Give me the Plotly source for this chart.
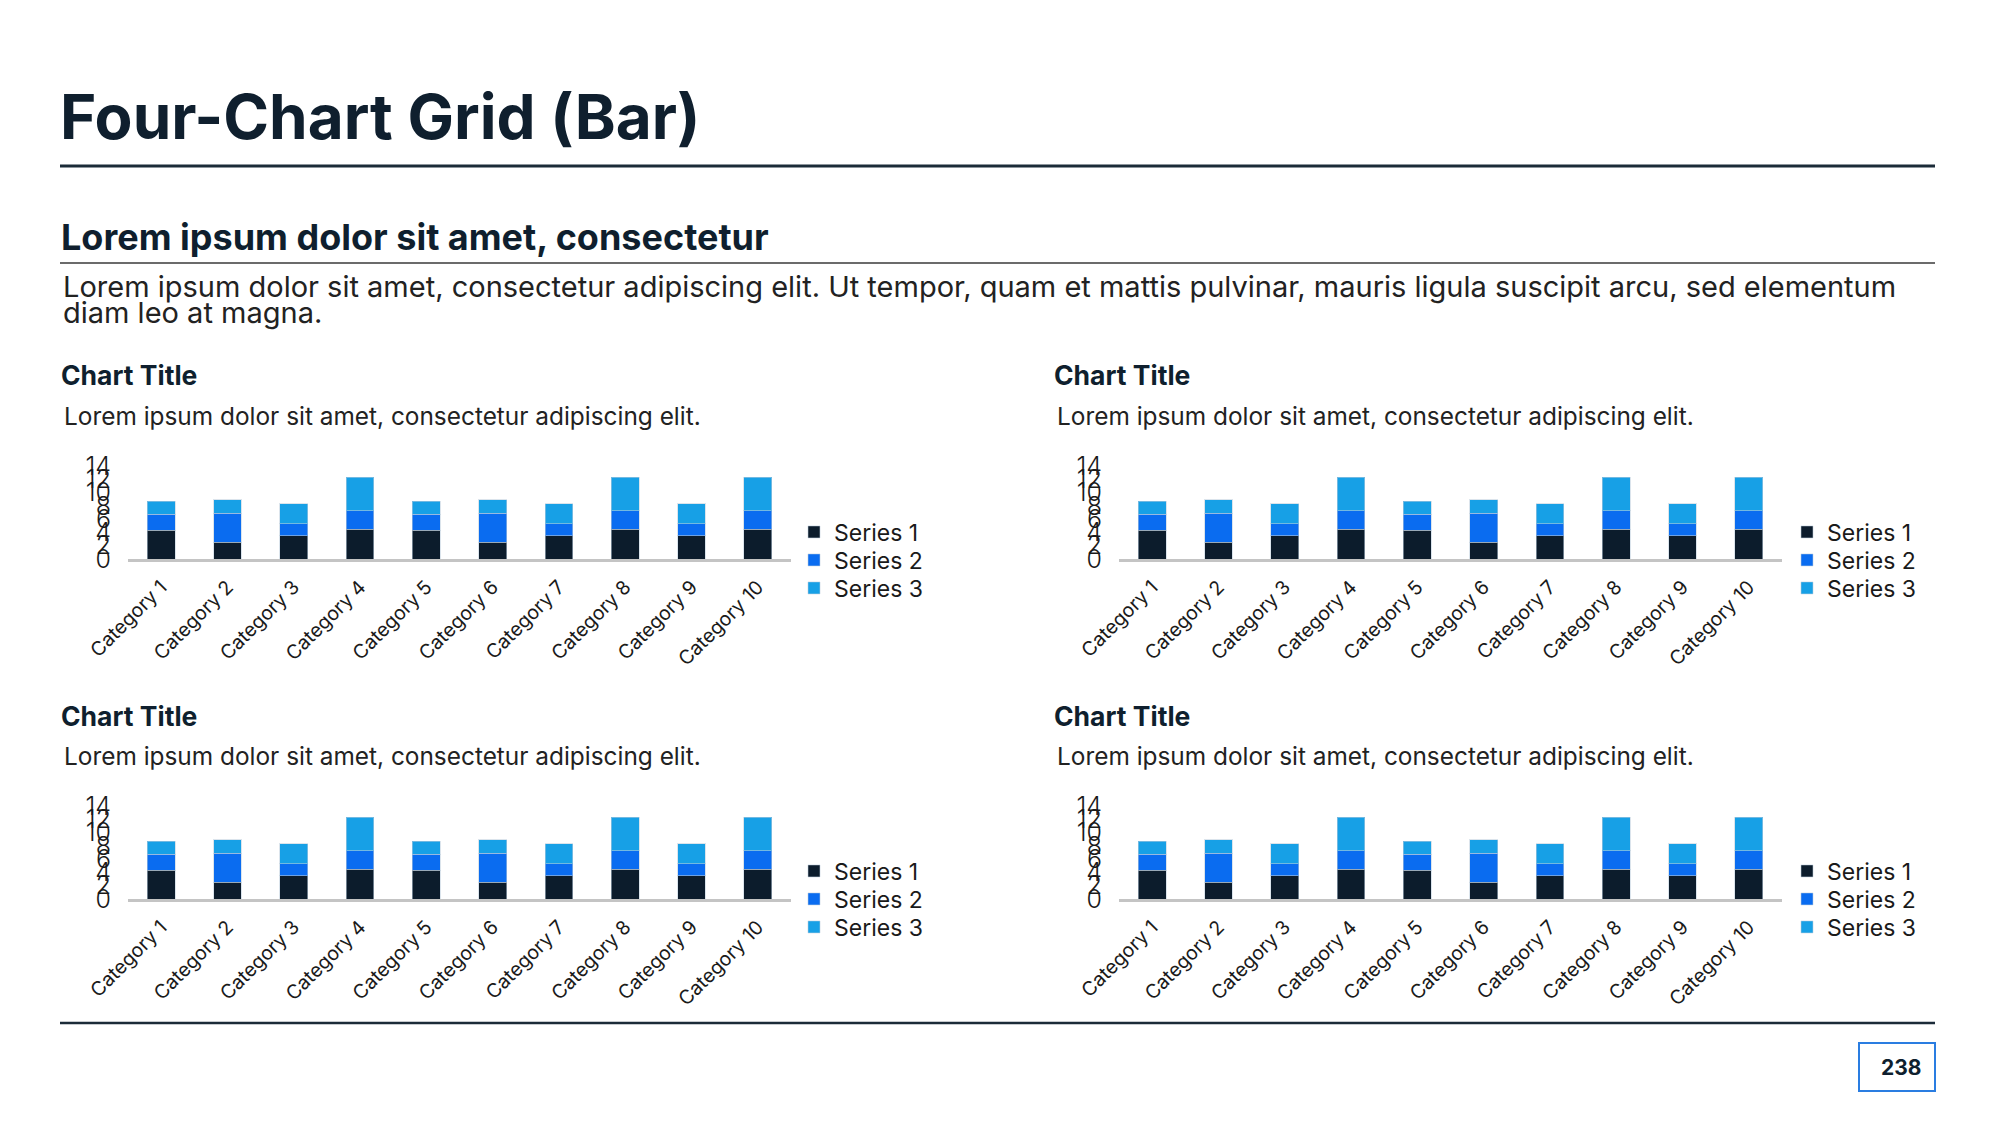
import plotly.graph_objects as go

# ---------------- data ----------------
categories = ["Category 1", "Category 2", "Category 3", "Category 4", "Category 5",
              "Category 6", "Category 7", "Category 8", "Category 9", "Category 10"]
series1 = [4.3, 2.5, 3.5, 4.5, 4.3, 2.5, 3.5, 4.5, 3.5, 4.5]
series2 = [2.4, 4.4, 1.8, 2.8, 2.4, 4.4, 1.8, 2.8, 1.8, 2.8]
series3 = [2.0, 2.0, 3.0, 5.0, 2.0, 2.0, 3.0, 5.0, 3.0, 5.0]
series_names = ["Series 1", "Series 2", "Series 3"]
y_ticks = [0, 2, 4, 6, 8, 10, 12, 14]

page_title = "Four-Chart Grid (Bar)"
section_title = "Lorem ipsum dolor sit amet, consectetur"
para_line1 = ("Lorem ipsum dolor sit amet, consectetur adipiscing elit. Ut tempor, quam et mattis "
              "pulvinar, mauris ligula suscipit arcu, sed elementum")
para_line2 = "diam leo at magna."
chart_title = "Chart Title"
chart_desc = "Lorem ipsum dolor sit amet, consectetur adipiscing elit."
page_number = "238"

# ---------------- styling ----------------
W, H = 2000, 1125
FONT = "Inter, 'Open Sans', sans-serif"
DARK = "#0f1f2e"
COLORS = ["#0c1c2c", "#0a6cf0", "#17a0e6"]


def px(x):
    return x / W


def py(y):
    return 1 - y / H


series_values = [series1, series2, series3]

panels = [
    dict(xd=(128, 791), yd=(559, 466), tx=59, ty=375, dx=62, dy=416, lx=794, ly=(532, 560, 588)),
    dict(xd=(1119, 1782), yd=(559, 466), tx=1052, ty=375, dx=1055, dy=416, lx=1787, ly=(532, 560, 588)),
    dict(xd=(128, 791), yd=(899, 806), tx=59, ty=716, dx=62, dy=756, lx=794, ly=(871, 899, 927)),
    dict(xd=(1119, 1782), yd=(899, 806), tx=1052, ty=716, dx=1055, dy=756, lx=1787, ly=(871, 899, 927)),
]

fig = go.Figure()
layout = dict(
    width=W, height=H,
    margin=dict(l=0, r=0, t=0, b=0, autoexpand=False),
    paper_bgcolor="white", plot_bgcolor="white",
    barmode="stack",
    font=dict(family=FONT, color=DARK),
    showlegend=True,
)

annotations = []
shapes = []
legend_count = 0

for i, p in enumerate(panels):
    n = i + 1
    xa = "x" if n == 1 else f"x{n}"
    ya = "y" if n == 1 else f"y{n}"
    for s, name in enumerate(series_names):
        legend_count += 1
        lg = "legend" if legend_count == 1 else f"legend{legend_count}"
        fig.add_trace(go.Bar(
            x=categories, y=series_values[s], name=name,
            marker=dict(color=COLORS[s], line=dict(color="rgba(190,205,220,0.55)", width=1)),
            width=0.42, xaxis=xa, yaxis=ya, legend=lg,
        ))
        layout[lg] = dict(
            x=px(p["lx"]), y=py(p["ly"][s]), xanchor="left", yanchor="middle",
            font=dict(size=23, color="#1a1a1a", family=FONT),
            bgcolor="rgba(0,0,0,0)", itemwidth=30,
        )
    xkey = "xaxis" if n == 1 else f"xaxis{n}"
    ykey = "yaxis" if n == 1 else f"yaxis{n}"
    layout[xkey] = dict(
        domain=[px(p["xd"][0]), px(p["xd"][1])], anchor=ya, automargin=False,
        showline=True, linecolor="#c4c4c4", linewidth=3,
        showgrid=False, zeroline=False, ticks="",
        tickangle=-45, tickfont=dict(size=19.5, color="#1a1a1a", family=FONT),
        ticklabelstandoff=6,
        range=[-0.5, 9.5],
    )
    layout[ykey] = dict(
        domain=[py(p["yd"][0]), py(p["yd"][1])], anchor=xa, automargin=False,
        range=[0, 14], tickvals=y_ticks,
        showgrid=False, zeroline=False, showline=False, ticks="",
        tickfont=dict(size=25, color="#1a1a1a", family=FONT, weight=300),
        ticklabelstandoff=16,
    )
    annotations.append(dict(
        text=chart_title, x=px(p["tx"]), y=py(p["ty"]), xref="paper", yref="paper",
        xanchor="left", yanchor="middle", showarrow=False,
        font=dict(size=26.5, color=DARK, family=FONT, weight=700),
    ))
    annotations.append(dict(
        text=chart_desc, x=px(p["dx"]), y=py(p["dy"]), xref="paper", yref="paper",
        xanchor="left", yanchor="middle", showarrow=False,
        font=dict(size=24.4, color="#222222", family=FONT, weight=400),
    ))

annotations += [
    dict(text=page_title, x=px(58), y=py(116), xref="paper", yref="paper",
         xanchor="left", yanchor="middle", showarrow=False,
         font=dict(size=62, color=DARK, family=FONT, weight=700)),
    dict(text=section_title, x=px(59), y=py(237), xref="paper", yref="paper",
         xanchor="left", yanchor="middle", showarrow=False,
         font=dict(size=36, color=DARK, family=FONT, weight=700)),
    dict(text=para_line1, x=px(61), y=py(287), xref="paper", yref="paper",
         xanchor="left", yanchor="middle", showarrow=False,
         font=dict(size=29, color="#222222", family=FONT, weight=400)),
    dict(text=para_line2, x=px(61), y=py(313), xref="paper", yref="paper",
         xanchor="left", yanchor="middle", showarrow=False,
         font=dict(size=29, color="#222222", family=FONT, weight=400)),
    dict(text=page_number, x=px(1923), y=py(1067), xref="paper", yref="paper",
         xanchor="right", yanchor="middle", showarrow=False,
         font=dict(size=21, color=DARK, family=FONT, weight=700)),
]

shapes += [
    dict(type="line", xref="paper", yref="paper", x0=px(60), x1=px(1935), y0=py(166), y1=py(166),
         line=dict(color="#1b2b38", width=3)),
    dict(type="line", xref="paper", yref="paper", x0=px(60), x1=px(1935), y0=py(263), y1=py(263),
         line=dict(color="#3a3a3a", width=1.5)),
    dict(type="line", xref="paper", yref="paper", x0=px(60), x1=px(1935), y0=py(1023), y1=py(1023),
         line=dict(color="#1b2b38", width=2.5)),
    dict(type="rect", xref="paper", yref="paper", x0=px(1859), x1=px(1935), y0=py(1043), y1=py(1091),
         line=dict(color="#2a7de1", width=2), fillcolor="rgba(0,0,0,0)"),
]

layout["annotations"] = annotations
layout["shapes"] = shapes
fig.update_layout(**layout)
fig.write_html("out.html")
